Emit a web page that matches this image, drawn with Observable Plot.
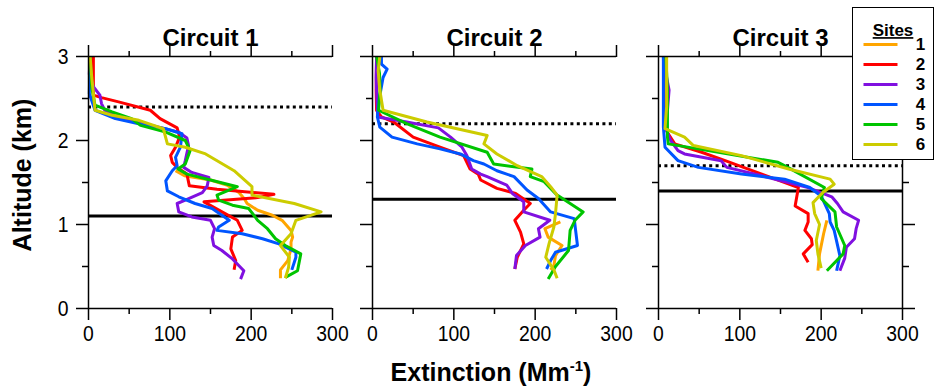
<!DOCTYPE html>
<html><head><meta charset="utf-8">
<script src="https://cdn.jsdelivr.net/npm/d3@7"></script>
<script src="https://cdn.jsdelivr.net/npm/@observablehq/plot@0.6"></script>
<style>
body{margin:0;background:#fff;}
#chart{position:relative;width:934px;height:392px;overflow:hidden;font-family:"Liberation Sans",Arial,sans-serif;color:#000;}
.panel{position:absolute;top:0;}
.ttl{position:absolute;font-weight:bold;font-size:25px;white-space:nowrap;line-height:1;}
#legend{position:absolute;left:852px;top:7px;width:82px;height:153px;box-sizing:border-box;border:1.5px solid #000;background:#fff;}
</style></head><body><div id="chart"></div>
<script>
const sites = ["1","2","3","4","5","6"];
const siteColors = ["#FFA500","#FF0000","#8010E0","#0055FF","#00C400","#CCCC00"];
const circuits = ["Circuit 1","Circuit 2","Circuit 3"];
const xTicks = [0,100,200,300];
const xMinor = [50,150,250];
const yTicks = [0,1,2,3];
const yMinor = [0.5,1.5,2.5];
const topBoundary = [2.4,2.2,1.7];   // dotted lines (km)
const baseBoundary = [1.1,1.3,1.4];  // solid lines (km)

// [altitude km, extinction Mm-1]
const c1_site1 = [[1.64,107],[1.58,118],[1.53,150],[1.47,170],[1.38,185],[1.30,192],[1.25,195],[1.17,208],[1.11,226],[1.05,238],[0.93,249],[0.85,251],[0.79,249],[0.71,249],[0.57,245],[0.46,236],[0.36,236]];
const c1_site2 = [[3.0,6],[2.54,6],[2.51,16],[2.46,37],[2.36,76],[2.26,88],[2.15,109],[2.04,112],[1.92,107],[1.82,101],[1.74,103],[1.68,109],[1.60,121],[1.46,124],[1.42,158],[1.36,228],[1.32,208],[1.27,142],[1.13,168],[1.05,183],[0.93,189],[0.85,177],[0.71,175],[0.57,181],[0.46,179]];
const c1_site3 = [[3.0,2],[2.79,1],[2.64,6],[2.54,14],[2.44,16],[2.36,20],[2.26,38],[2.18,78],[2.10,111],[2.03,121],[1.94,123],[1.76,119],[1.68,117],[1.62,127],[1.56,148],[1.46,146],[1.38,140],[1.29,119],[1.25,109],[1.15,111],[1.09,127],[1.05,150],[0.95,155],[0.85,152],[0.75,154],[0.69,164],[0.59,177],[0.45,191],[0.35,187]];
const c1_site4 = [[3.0,2],[2.56,1],[2.36,8],[2.26,33],[2.18,70],[2.14,95],[2.08,115],[1.92,113],[1.80,107],[1.70,109],[1.64,103],[1.52,95],[1.40,97],[1.33,111],[1.25,131],[1.19,152],[1.11,164],[1.05,173],[0.97,160],[0.93,158],[0.89,189],[0.83,214],[0.77,234],[0.67,255],[0.61,255],[0.46,250]];
const c1_site5 = [[3.0,2],[2.63,4],[2.42,8],[2.34,29],[2.26,53],[2.18,64],[2.10,95],[2.00,119],[1.88,125],[1.72,119],[1.66,110],[1.60,121],[1.53,150],[1.45,183],[1.35,158],[1.29,160],[1.23,177],[1.19,197],[1.05,208],[0.95,220],[0.83,230],[0.75,242],[0.65,261],[0.45,257],[0.37,242]];
const c1_site6 = [[3.0,2],[2.75,4],[2.56,6],[2.36,8],[2.30,29],[2.24,62],[2.14,92],[1.96,97],[1.92,119],[1.84,144],[1.64,179],[1.45,201],[1.35,201],[1.25,253],[1.15,286],[1.05,255],[0.89,249],[0.75,236],[0.61,247],[0.49,246],[0.36,242]];

const c2_site1 = [[1.03,231],[0.95,212],[0.85,216],[0.75,233],[0.63,225],[0.51,223],[0.46,219]];
const c2_site2 = [[3.0,5],[2.6,4.5],[2.36,5],[2.28,11],[2.22,26],[2.04,50],[1.92,83],[1.82,112],[1.66,120],[1.60,130],[1.53,133],[1.43,153],[1.37,176],[1.25,194],[1.17,186],[1.05,175],[0.91,182],[0.77,186],[0.61,178],[0.47,175]];
const c2_site3 = [[3.0,5],[2.75,4.5],[2.6,5],[2.28,6.5],[2.22,42],[2.15,81],[2.04,96],[1.92,110],[1.82,116],[1.66,122],[1.60,133],[1.57,141],[1.47,165],[1.37,172],[1.27,186],[1.15,186],[1.05,218],[0.95,204],[0.85,206],[0.75,188],[0.63,177],[0.47,175]];
const c2_site4 = [[3.0,11],[2.91,11],[2.85,18],[2.75,13],[2.48,8],[2.28,6],[2.16,9],[2.04,24],[1.96,55],[1.90,83],[1.84,108],[1.76,124],[1.72,137],[1.64,153],[1.57,174],[1.41,190],[1.31,204],[1.15,219],[1.07,248],[0.91,250],[0.75,252],[0.67,225],[0.57,219],[0.47,214]];
const c2_site5 = [[3.0,5],[2.8,8.6],[2.6,9.4],[2.36,7.4],[2.20,42],[2.04,83],[1.86,141],[1.72,149],[1.66,196],[1.57,194],[1.51,211],[1.35,227],[1.15,259],[1.05,249],[0.93,243],[0.69,241],[0.50,225],[0.35,216]];
const c2_site6 = [[3.0,9],[2.83,7],[2.6,9],[2.36,13],[2.22,67],[2.06,141],[1.96,137],[1.84,153],[1.70,178],[1.57,208],[1.45,219],[1.35,227],[1.13,225],[0.97,223],[0.77,217],[0.61,213],[0.46,223],[0.36,227]];

const c3_site1 = [[1.05,207],[0.89,203],[0.65,198],[0.45,196]];
const c3_site2 = [[3.0,6],[2.6,7],[2.14,9],[2.08,12],[1.96,20],[1.86,53],[1.76,82],[1.60,127],[1.44,172],[1.22,168],[1.13,184],[1.03,184],[0.93,180],[0.83,188],[0.76,189],[0.65,178],[0.55,184]];
const c3_site3 = [[3.0,7],[2.8,9],[2.6,13],[2.36,11],[2.14,9],[2.0,15],[1.88,24],[1.84,32],[1.76,77],[1.68,84],[1.58,127],[1.44,184],[1.33,213],[1.25,220],[1.15,227],[1.05,246],[0.95,243],[0.83,241],[0.73,231],[0.60,229],[0.45,223]];
const c3_site4 = [[3.0,6],[2.4,6],[2.16,6],[1.92,8],[1.76,24],[1.68,49],[1.60,102],[1.54,155],[1.44,186],[1.34,200],[1.13,210],[1.03,211],[0.93,216],[0.63,223],[0.45,219]];
const c3_site5 = [[3.0,9],[2.6,11],[2.04,11],[1.96,12],[1.74,147],[1.68,159],[1.44,204],[1.31,200],[1.15,217],[0.97,219],[0.75,229],[0.65,227],[0.45,207]];
const c3_site6 = [[3.0,10],[2.4,10],[2.14,8],[2.04,32],[1.94,43],[1.82,102],[1.66,160],[1.54,211],[1.48,216],[1.38,202],[1.26,190],[1.13,192],[1.00,198],[0.81,194],[0.65,196],[0.48,200]];

const profiles = [
  [c1_site1,c1_site2,c1_site3,c1_site4,c1_site5,c1_site6],
  [c2_site1,c2_site2,c2_site3,c2_site4,c2_site5,c2_site6],
  [c3_site1,c3_site2,c3_site3,c3_site4,c3_site5,c3_site6]
];

const chart = document.getElementById("chart");
const zeroX = [88, 372, 658];
const ML = 88, MR = 30, PW = 244;
const blank = () => "";
const font = "Liberation Sans, Arial, sans-serif";

profiles.forEach((series, ci) => {
  const rows = [];
  series.forEach((arr, si) => arr.forEach(([alt, ext]) => rows.push({site: sites[si], alt, ext})));
  const marks = [
    Plot.ruleY([baseBoundary[ci]], {stroke: "#000", strokeWidth: 3}),
    Plot.ruleY([topBoundary[ci]], {stroke: "#000", strokeWidth: 3, strokeDasharray: "3,3.4"}),
    Plot.line(rows, {x: "ext", y: "alt", z: "site", stroke: "site", strokeWidth: 3, strokeLinejoin: "round", strokeLinecap: "butt"}),
    Plot.ruleX([0], {stroke: "#000", strokeWidth: 1.5}),
    Plot.ruleY([0, 3], {stroke: "#000", strokeWidth: 1.5}),
    Plot.axisX({anchor: "bottom", ticks: xTicks, tickSize: 12, tickPadding: 5, strokeWidth: 1.5, fontSize: 22, label: null}),
    Plot.axisX({anchor: "bottom", ticks: xMinor, tickSize: 6, tickFormat: blank, strokeWidth: 1.5, label: null}),
    Plot.axisX({anchor: "top", ticks: xTicks, tickSize: 12, tickFormat: blank, strokeWidth: 1.5, label: null}),
    Plot.axisX({anchor: "top", ticks: xMinor, tickSize: 6, tickFormat: blank, strokeWidth: 1.5, label: null}),
    Plot.axisY({anchor: "left", ticks: yTicks, tickSize: 12, tickPadding: 8, strokeWidth: 1.5, fontSize: 22, label: null, tickFormat: ci === 0 ? d3.format("d") : blank}),
    Plot.axisY({anchor: "left", ticks: yMinor, tickSize: 6, tickFormat: blank, strokeWidth: 1.5, label: null}),
    Plot.text([circuits[ci]], {frameAnchor: "top", dy: -28, fontSize: 24, fontWeight: "bold", fill: "#000"})
  ];
  if (ci === 2) {
    marks.push(Plot.ruleX([300], {stroke: "#000", strokeWidth: 1.5}));
    marks.push(Plot.axisY({anchor: "right", ticks: yTicks, tickSize: 12, tickFormat: blank, strokeWidth: 1.5, label: null}));
    marks.push(Plot.axisY({anchor: "right", ticks: yMinor, tickSize: 6, tickFormat: blank, strokeWidth: 1.5, label: null}));
  }
  const p = Plot.plot({
    width: ML + PW + MR, height: 392,
    marginLeft: ML, marginRight: MR, marginTop: 56, marginBottom: 84,
    x: {domain: [0, 300], label: null},
    y: {domain: [0, 3], label: null},
    color: {domain: sites, range: siteColors},
    style: {background: "transparent", overflow: "visible", fontFamily: font, fontSize: "22px", color: "#000"},
    marks
  });
  // narrow the tick-label glyphs (reference uses a condensed face)
  d3.select(p).selectAll('g[aria-label$="tick label"] text').each(function(){
    const t = this.getAttribute("transform") || "";
    this.setAttribute("transform", t + " scale(0.88,1)");
  });
  const wrap = document.createElement("div");
  wrap.className = "panel";
  wrap.style.left = (zeroX[ci] - ML) + "px";
  wrap.appendChild(p);
  chart.appendChild(wrap);
});

// axis titles
const yt = document.createElement("div");
yt.className = "ttl";
yt.textContent = "Altitude (km)";
yt.style.left = "22px"; yt.style.top = "175px";
yt.style.transform = "translate(-50%,-50%) rotate(-90deg)";
chart.appendChild(yt);

const xt = document.createElement("div");
xt.className = "ttl";
xt.innerHTML = 'Extinction (Mm<sup style="font-size:15px;vertical-align:10px;line-height:0">-1</sup>)';
xt.style.left = "491px"; xt.style.top = "372px";
xt.style.transform = "translate(-50%,-50%)";
chart.appendChild(xt);

// legend
const lg = document.createElement("div");
lg.id = "legend";
const legendPlot = Plot.plot({
  width: 79, height: 150,
  marginLeft: 0, marginRight: 0, marginTop: 34.5, marginBottom: 12.5,
  x: {domain: [0, 79], axis: null},
  y: {type: "point", domain: sites, padding: 0, axis: null},
  color: {domain: sites, range: siteColors},
  style: {background: "transparent", fontFamily: font, color: "#000"},
  marks: [
    Plot.ruleY(sites, {y: d => d, x1: 10.5, x2: 44.5, stroke: d => d, strokeWidth: 3}),
    Plot.text(sites, {y: d => d, x: 67, text: d => d, fontSize: 17, fontWeight: "bold", fill: "#000"}),
    Plot.text(["Sites"], {frameAnchor: "top", dy: -19, fontSize: 17, fontWeight: "bold", fill: "#000"})
  ]
});
d3.select(legendPlot).selectAll("text").filter(function(){ return this.textContent === "Sites"; }).style("text-decoration", "underline");
lg.appendChild(legendPlot);
chart.appendChild(lg);
</script></body></html>
